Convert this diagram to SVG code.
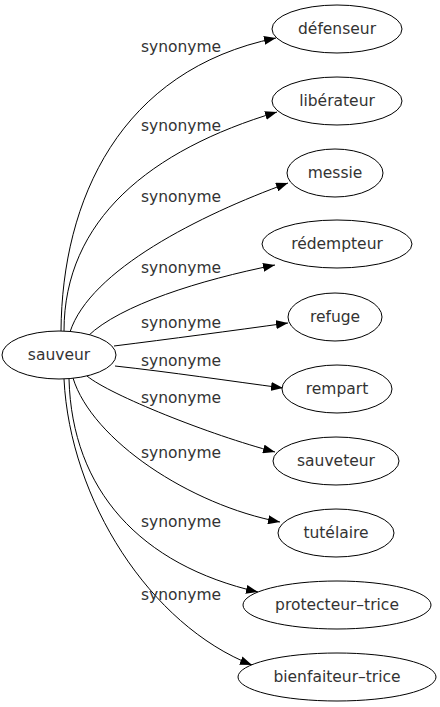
<svg xmlns="http://www.w3.org/2000/svg" width="440" height="707" viewBox="0 0 440 707">
<style>
.n ellipse{fill:#fff;stroke:#000;stroke-width:1}
text{font-family:"DejaVu Sans","Liberation Sans",sans-serif;font-size:15.5px;fill:#333;text-anchor:middle}
.e path{fill:none;stroke:#000;stroke-width:1;marker-end:url(#arr)}
</style>
<defs>
<marker id="arr" markerWidth="12" markerHeight="9" refX="12" refY="4.5" orient="auto" markerUnits="userSpaceOnUse"><path d="M0,0 L12,4.5 L0,9 z" fill="#000"/></marker>
</defs>
<rect width="440" height="707" fill="#fff"/>
<g id="edges" class="e">
<path d="M61,331 C62,200 120,70 276,38"/>
<path d="M64,331 C64,220 150,150 277,112"/>
<path d="M70,332 C90,270 200,215 288,183"/>
<path d="M88,336 C120,305 200,280 275,265"/>
<path d="M114,346 C170,339 230,331 288,323"/>
<path d="M115,366 C170,372 230,381 283,388"/>
<path d="M87,376 C110,395 210,435 275,452"/>
<path d="M73,378 C92,440 190,505 280,522"/>
<path d="M69,379 C72,490 140,565 258,592"/>
<path d="M64,379 C70,500 150,625 252,665"/>
</g>
<g id="labels">
<text x="181" y="52">synonyme</text>
<text x="181" y="131">synonyme</text>
<text x="181" y="202">synonyme</text>
<text x="181" y="273">synonyme</text>
<text x="181" y="328">synonyme</text>
<text x="181" y="366">synonyme</text>
<text x="181" y="403">synonyme</text>
<text x="181" y="458">synonyme</text>
<text x="181" y="527">synonyme</text>
<text x="181" y="600">synonyme</text>
</g>
<g id="sauveur" class="n"><ellipse cx="59" cy="355" rx="57" ry="24"/><text x="59" y="360">sauveur</text></g>
<g id="defenseur" class="n"><ellipse cx="337" cy="29" rx="65" ry="24"/><text x="337" y="34">défenseur</text></g>
<g id="liberateur" class="n"><ellipse cx="337" cy="101" rx="65" ry="24"/><text x="337" y="106">libérateur</text></g>
<g id="messie" class="n"><ellipse cx="335" cy="173" rx="48" ry="24"/><text x="335" y="178">messie</text></g>
<g id="redempteur" class="n"><ellipse cx="337" cy="244" rx="75" ry="24"/><text x="337" y="249">rédempteur</text></g>
<g id="refuge" class="n"><ellipse cx="335" cy="317" rx="47" ry="24"/><text x="335" y="322">refuge</text></g>
<g id="rempart" class="n"><ellipse cx="337" cy="389" rx="55" ry="24"/><text x="337" y="394">rempart</text></g>
<g id="sauveteur" class="n"><ellipse cx="336" cy="461" rx="63" ry="24"/><text x="336" y="466">sauveteur</text></g>
<g id="tutelaire" class="n"><ellipse cx="336" cy="533" rx="58" ry="24"/><text x="336" y="538">tutélaire</text></g>
<g id="protecteur-trice" class="n"><ellipse cx="337" cy="605" rx="94" ry="24"/><text x="337" y="610">protecteur–trice</text></g>
<g id="bienfaiteur-trice" class="n"><ellipse cx="337" cy="677" rx="99" ry="24"/><text x="337" y="682">bienfaiteur–trice</text></g>
</svg>
